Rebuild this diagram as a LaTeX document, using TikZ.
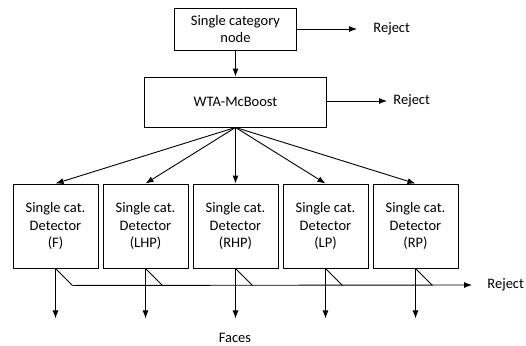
\documentclass[tikz,border=0pt]{standalone}
\usepackage{fontspec}
\setmainfont{Carlito}
\usetikzlibrary{arrows.meta, positioning}

\begin{document}
\begin{tikzpicture}[x=1pt, y=-1pt, node distance=90pt, font=\fontsize{14.5}{17.5}\selectfont, line width=0.9pt]

	% Define block styles
	\tikzstyle{block} = [rectangle, draw, align=center, inner sep=0pt]
	\tikzstyle{detector} = [rectangle, draw, align=center, inner sep=0pt,
	minimum width=85pt, minimum height=84pt]
	\tikzstyle{label} = [anchor=west, inner sep=0pt]
	\tikzstyle{line} = [draw, -{Latex[length=8pt, width=6pt]}]

	\useasboundingbox (0,0) rectangle (526,345);

	% Nodes
	\node [block, minimum width=122pt, minimum height=42pt] (single) at (235.5,29) {Single category\\node};
	\node [block, minimum width=182pt, minimum height=50pt] (wta) at (235.5,102) {WTA-McBoost};
	\node [detector] (detF) at (55.5,226) {Single cat.\\Detector\\(F)};
	\node [detector, right of=detF] (detLHP) {Single cat.\\Detector\\(LHP)};
	\node [detector, right of=detLHP] (detRHP) {Single cat.\\Detector\\(RHP)};
	\node [detector, right of=detRHP] (detLP) {Single cat.\\Detector\\(LP)};
	\node [detector, right of=detLP] (detRP) {Single cat.\\Detector\\(RP)};

	\coordinate (rejA) at (357,29);
	\coordinate (rejB) at (387,101);
	\coordinate (rejC) at (472,285);
	\node [label] (rejtextA) at (373,29) {Reject};
	\node [label] (rejtextB) at (393,101) {Reject};
	\node [label] (rejtextC) at (487,285) {Reject};
	\node (faces) at (235,338) {Faces};

	% Paths
	\path [line] (single) -- (wta);
	\path [line] (single.east) -- (rejA);
	\path [line] (wta.east |- rejB) -- (rejB);
	\foreach \n in {F,LHP,RHP,LP,RP} {
		\path [line] (wta.south) -- (det\n.north);
		\coordinate (out\n) at ([yshift=-50pt]det\n.south);
		\coordinate (tap\n) at ([xshift=17pt, yshift=-17pt]det\n.south);
		\path [line] (det\n) -- (out\n);
		\draw (det\n.south) -- (tap\n);
	}
	\path [line] (tapF) -- (rejC);
\end{tikzpicture}
\end{document}
